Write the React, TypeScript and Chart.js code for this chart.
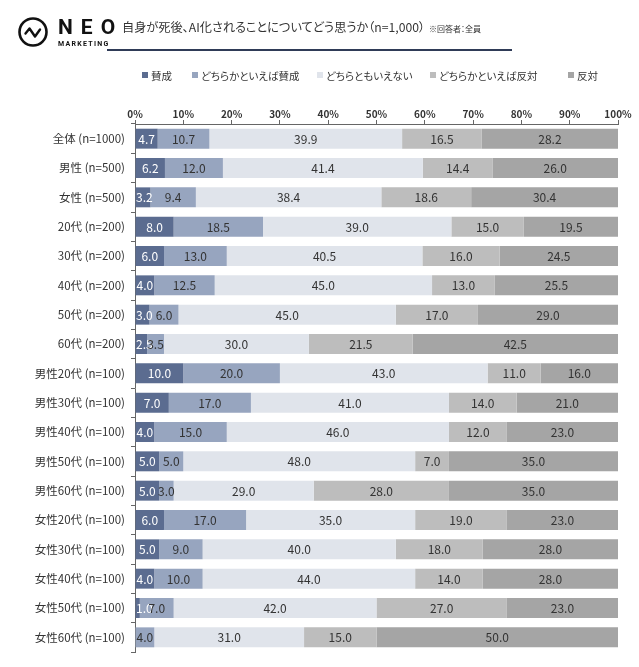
import React, { useEffect, useRef } from "react";
import { Chart, registerables } from "chart.js";

Chart.register(...registerables);

const categories = [
  "全体 (n=1000)",
  "男性 (n=500)",
  "女性 (n=500)",
  "20代 (n=200)",
  "30代 (n=200)",
  "40代 (n=200)",
  "50代 (n=200)",
  "60代 (n=200)",
  "男性20代 (n=100)",
  "男性30代 (n=100)",
  "男性40代 (n=100)",
  "男性50代 (n=100)",
  "男性60代 (n=100)",
  "女性20代 (n=100)",
  "女性30代 (n=100)",
  "女性40代 (n=100)",
  "女性50代 (n=100)",
  "女性60代 (n=100)",
];

const seriesNames = ["賛成", "どちらかといえば賛成", "どちらともいえない", "どちらかといえば反対", "反対"];

const agree = [4.7, 6.2, 3.2, 8.0, 6.0, 4.0, 3.0, 2.5, 10.0, 7.0, 4.0, 5.0, 5.0, 6.0, 5.0, 4.0, 1.0, 0];
const somewhatAgree = [10.7, 12.0, 9.4, 18.5, 13.0, 12.5, 6.0, 3.5, 20.0, 17.0, 15.0, 5.0, 3.0, 17.0, 9.0, 10.0, 7.0, 4.0];
const neither = [39.9, 41.4, 38.4, 39.0, 40.5, 45.0, 45.0, 30.0, 43.0, 41.0, 46.0, 48.0, 29.0, 35.0, 40.0, 44.0, 42.0, 31.0];
const somewhatDisagree = [16.5, 14.4, 18.6, 15.0, 16.0, 13.0, 17.0, 21.5, 11.0, 14.0, 12.0, 7.0, 28.0, 19.0, 18.0, 14.0, 27.0, 15.0];
const disagree = [28.2, 26.0, 30.4, 19.5, 24.5, 25.5, 29.0, 42.5, 16.0, 21.0, 23.0, 35.0, 35.0, 23.0, 28.0, 28.0, 23.0, 50.0];

const seriesValues = [agree, somewhatAgree, neither, somewhatDisagree, disagree];
const seriesColors = ["#5b6c90", "#97a5bf", "#e0e4eb", "#bdbdbd", "#a5a5a5"];
const legendLefts = [142, 192, 317, 430, 568];

const JP = '"Noto Sans CJK JP", "Noto Sans", sans-serif';

const valueLabels = {
  id: "valueLabels",
  afterDatasetsDraw(chart: any) {
    const ctx = chart.ctx;
    ctx.save();
    ctx.font = `12px ${JP}`;
    ctx.textAlign = "center";
    ctx.textBaseline = "middle";
    chart.data.datasets.forEach((ds: any, di: number) => {
      const meta = chart.getDatasetMeta(di);
      meta.data.forEach((el: any, i: number) => {
        const v = ds.data[i];
        if (!v) return;
        const txt = Number(v).toFixed(1);
        const w = ctx.measureText(txt).width;
        let cx = (el.x + el.base) / 2;
        const minX = chart.chartArea.left + 1 + w / 2;
        if (cx < minX) cx = minX;
        ctx.fillStyle = di === 0 ? "#ffffff" : "#333333";
        ctx.fillText(txt, cx, el.y + 0.5);
      });
    });
    ctx.restore();
  },
};

export default function App() {
  const canvasRef = useRef<HTMLCanvasElement | null>(null);

  useEffect(() => {
    const canvas = canvasRef.current;
    if (!canvas) return;
    const chart = new Chart(canvas, {
      type: "bar",
      data: {
        labels: categories,
        datasets: seriesNames.map((name, i) => ({
          label: name,
          data: seriesValues[i],
          backgroundColor: seriesColors[i],
          borderWidth: 0,
          barPercentage: 0.68,
          categoryPercentage: 1,
        })),
      },
      options: {
        indexAxis: "y",
        responsive: false,
        animation: false,
        devicePixelRatio: 1,
        layout: { padding: { left: 0, top: 0, right: 21, bottom: 15 } },
        plugins: {
          legend: { display: false },
          tooltip: { enabled: false },
          title: { display: false },
        },
        scales: {
          x: {
            position: "top",
            stacked: true,
            min: 0,
            max: 100,
            ticks: {
              stepSize: 10,
              padding: 0,
              color: "#333",
              font: { family: JP, size: 10, weight: "bold" },
              callback: (v: any) => `${v}%`,
            },
            grid: {
              drawOnChartArea: false,
              drawTicks: true,
              tickLength: 4,
              color: "#666",
            },
            border: { display: true, color: "#666", width: 1 },
            afterFit: (scale: any) => {
              scale.height = 124;
            },
          },
          y: {
            stacked: true,
            ticks: {
              padding: 6,
              color: "#333",
              font: { family: JP, size: 11.5 },
            },
            grid: {
              drawOnChartArea: false,
              drawTicks: true,
              tickLength: 4,
              color: "#666",
              offset: true,
            },
            border: { display: true, color: "#666", width: 1 },
            afterFit: (scale: any) => {
              scale.width = 135;
            },
          },
        },
      } as any,
      plugins: [valueLabels],
    });
    return () => chart.destroy();
  }, []);

  return (
    <div
      style={{
        position: "fixed",
        left: 0,
        top: 0,
        width: 639,
        height: 667,
        background: "#fff",
        overflow: "hidden",
        fontFamily: JP,
        color: "#333",
      }}
    >
      <canvas ref={canvasRef} width={639} height={667} style={{ position: "absolute", left: 0, top: 0 }} />
      {/* Logo */}
      <svg width={40} height={40} style={{ position: "absolute", left: 13, top: 12 }} viewBox="0 0 40 40">
        <circle cx={20} cy={20} r={13.5} fill="none" stroke="#111" strokeWidth={2.6} />
        <path d="M12.5 21.5 L16.5 16.5 L22 24.5 L27 17.5" fill="none" stroke="#111" strokeWidth={2.4} strokeLinejoin="round" strokeLinecap="round" />
      </svg>
      <div
        style={{
          position: "absolute",
          left: 58,
          top: 14,
          fontFamily: "Roboto, sans-serif",
          fontWeight: 700,
          fontSize: 21,
          letterSpacing: 8,
          lineHeight: "26px",
          color: "#111",
        }}
      >
        NEO
      </div>
      <div
        style={{
          position: "absolute",
          left: 58,
          top: 40,
          fontFamily: "Roboto, sans-serif",
          fontWeight: 700,
          fontSize: 7,
          letterSpacing: 1.3,
          lineHeight: "9px",
          color: "#111",
        }}
      >
        MARKETING
      </div>
      {/* Title */}
      <div
        style={{
          position: "absolute",
          left: 122,
          top: 17,
          fontSize: 12.2,
          lineHeight: "20px",
          color: "#333",
          whiteSpace: "nowrap",
          fontFeatureSettings: '"palt"',
        }}
      >
        自身が死後、AI化されることについてどう思うか（n=1,000）
        <span style={{ fontSize: 8, marginLeft: 4 }}>※回答者：全員</span>
      </div>
      <div
        style={{
          position: "absolute",
          left: 107,
          top: 49,
          width: 405,
          height: 2,
          background: "#2f3b57",
        }}
      />
      {/* Legend */}
      {seriesNames.map((name, i) => (
        <div
          key={name}
          style={{
            position: "absolute",
            left: legendLefts[i],
            top: 67,
            height: 16,
            display: "flex",
            alignItems: "center",
            fontSize: 10.5,
            whiteSpace: "nowrap",
            color: "#333",
            fontFeatureSettings: '"palt"',
          }}
        >
          <span
            style={{
              display: "inline-block",
              width: 6,
              height: 6,
              background: seriesColors[i],
              marginRight: 3,
            }}
          />
          {name}
        </div>
      ))}
    </div>
  );
}
